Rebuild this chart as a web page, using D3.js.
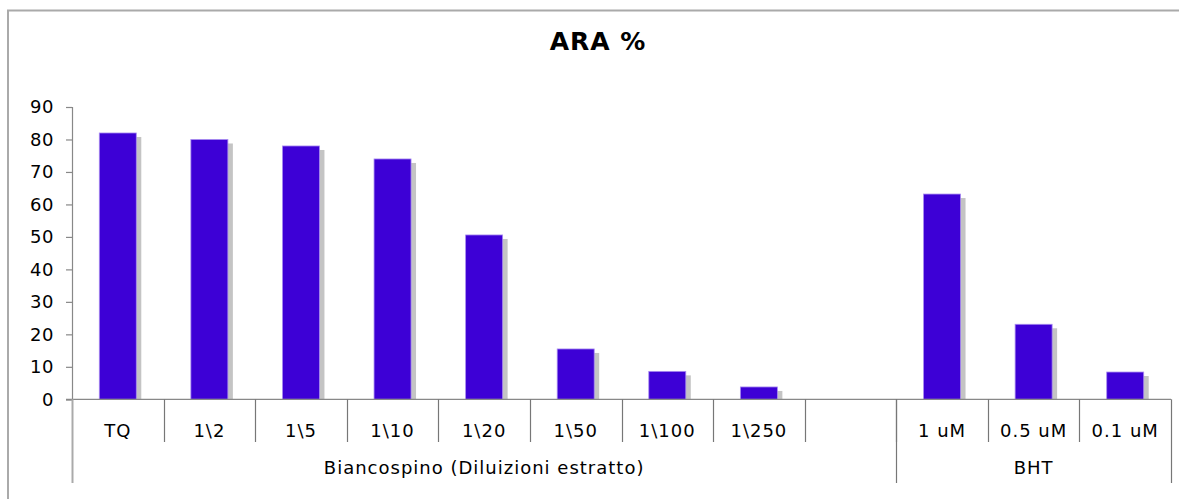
<!DOCTYPE html>
<html>
<head>
<meta charset="utf-8">
<script src="https://cdn.jsdelivr.net/npm/d3@7"></script>
<style>
  body { margin: 0; background: #fff; }
  svg text { font-family: "DejaVu Sans", Verdana, sans-serif; fill: #000; }
</style>
</head>
<body>
<svg id="chart" width="1179" height="499"></svg>
<script>
// dati
var categories = ["TQ", "1\\2", "1\\5", "1\\10", "1\\20", "1\\50", "1\\100", "1\\250", "", "1 uM", "0.5 uM", "0.1 uM"];
var values = [82, 80, 78, 74, 50.6, 15.5, 8.6, 3.8, null, 63.2, 23.1, 8.4];
var groups = ["Biancospino (Diluizioni estratto)", "BHT"];
var groupSpans = [[0, 8], [9, 11]];
var yTicks = [0, 10, 20, 30, 40, 50, 60, 70, 80, 90];
var title = "ARA %";

var svg = d3.select("#chart");
var mLeft = 72, mRight = 1171, mTop = 107, mBottom = 399.3;

// bordo esterno
svg.append("rect").attr("x", 8).attr("y", 10.5).attr("width", 1200).attr("height", 600)
  .attr("fill", "none").attr("stroke", "#aaa").attr("stroke-width", 2);

svg.append("text").attr("x", 598).attr("y", 50).attr("text-anchor", "middle")
  .attr("font-size", 25).attr("font-weight", "bold").attr("letter-spacing", 1).text(title);

var x = d3.scaleBand().domain(d3.range(categories.length)).range([mLeft, mRight]).paddingInner(0).paddingOuter(0);
var y = d3.scaleLinear().domain([0, 90]).range([mBottom, mTop]);

// asse y
var yAxis = svg.append("g").attr("transform", "translate(" + mLeft + ",0)")
  .call(d3.axisLeft(y).tickValues(yTicks).tickSize(6).tickPadding(12));
yAxis.select(".domain").attr("stroke", "#888").attr("stroke-width", 1.2);
yAxis.selectAll(".tick line").attr("stroke", "#888").attr("stroke-width", 1.2);
yAxis.selectAll(".tick text").attr("font-size", 18).attr("font-family", "DejaVu Sans, Verdana, sans-serif")
  .attr("fill", "#000").attr("letter-spacing", 0.5);

// barre con ombra
var bw = 37;
var barData = values.map(function(v, i){ return {v: v, i: i}; }).filter(function(d){ return d.v != null; });
svg.append("g").selectAll("rect").data(barData).enter().append("rect")
  .attr("x", function(d){ return x(d.i) + x.bandwidth()/2 - bw/2 + 5; })
  .attr("y", function(d){ return y(d.v) + 4; })
  .attr("width", bw)
  .attr("height", function(d){ return mBottom - y(d.v) - 4; })
  .attr("fill", "#c4c4c4");
svg.append("g").selectAll("rect").data(barData).enter().append("rect")
  .attr("x", function(d){ return x(d.i) + x.bandwidth()/2 - bw/2; })
  .attr("y", function(d){ return y(d.v); })
  .attr("width", bw)
  .attr("height", function(d){ return mBottom - y(d.v); })
  .attr("fill", "#3d00d6").attr("stroke", "#a98cf0").attr("stroke-width", 0.8);

// asse x
svg.append("line").attr("x1", mLeft - 6).attr("x2", mRight).attr("y1", mBottom).attr("y2", mBottom)
  .attr("stroke", "#888").attr("stroke-width", 1.2);

// separatori categorie
var sep = d3.range(1, categories.length);
svg.append("g").selectAll("line").data(sep).enter().append("line")
  .attr("x1", function(i){ return Math.round(x(i)) + 0.5; })
  .attr("x2", function(i){ return Math.round(x(i)) + 0.5; })
  .attr("y1", mBottom).attr("y2", 442)
  .attr("stroke", "#777").attr("stroke-width", 1.2);

svg.append("g").selectAll("text").data(categories).enter().append("text")
  .attr("x", function(d, i){ return x(i) + x.bandwidth()/2; })
  .attr("y", 437).attr("text-anchor", "middle").attr("font-size", 18).attr("letter-spacing", 1)
  .text(function(d){ return d; });

// gruppi
var bounds = [0, 9, 12];
svg.append("g").selectAll("line").data(bounds).enter().append("line")
  .attr("x1", function(i){ return (i < 12 ? Math.round(x(i)) : mRight) + 0.5; })
  .attr("x2", function(i){ return (i < 12 ? Math.round(x(i)) : mRight) + 0.5; })
  .attr("y1", mBottom).attr("y2", 483)
  .attr("stroke", function(i){ return i == 0 ? "#aaa" : "#777"; })
  .attr("stroke-width", function(i){ return i == 0 ? 2 : 1.2; });

svg.append("g").selectAll("text").data(groups).enter().append("text")
  .attr("x", function(d, k){ var s = groupSpans[k]; return (x(s[0]) + x(s[1]) + x.bandwidth())/2; })
  .attr("y", 474).attr("text-anchor", "middle").attr("font-size", 18).attr("letter-spacing", 1)
  .text(function(d){ return d; });
</script>
</body>
</html>
